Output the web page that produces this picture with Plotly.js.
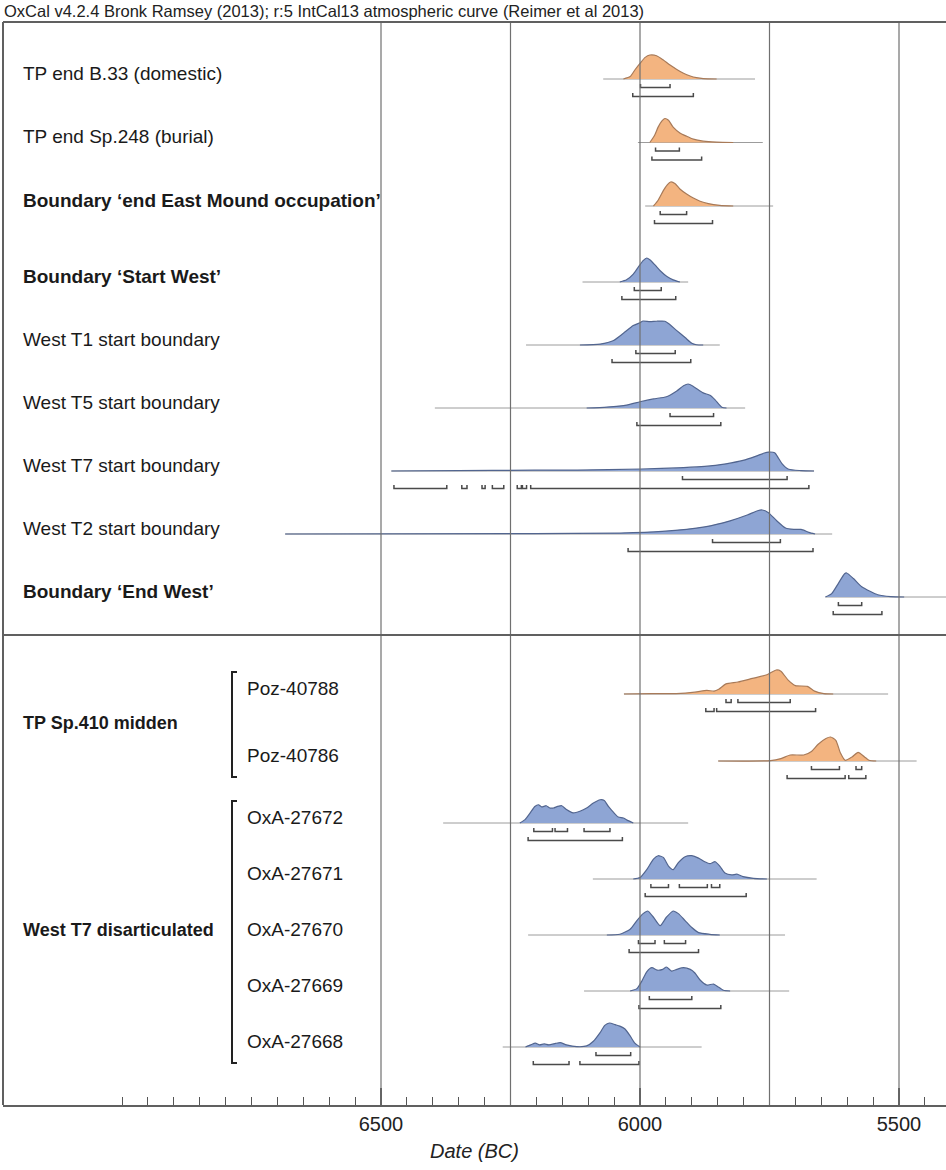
<!DOCTYPE html>
<html><head><meta charset="utf-8">
<script src="https://cdn.plot.ly/plotly-3.0.1.min.js"></script>
<style>html,body{margin:0;padding:0;background:#fff}#chart{width:946px;height:1170px}</style>
</head><body><div id="chart"></div>
<script>
// ---------------- DATA ----------------
const headerText = "OxCal v4.2.4 Bronk Ramsey (2013); r:5 IntCal13 atmospheric curve (Reimer et al 2013)";
const xTitle = "Date (BC)";
const tickVals = [7000, 6500, 6000, 5500];
const tickText = ["", "6500", "6000", "5500"];
const gridYears = [6500, 6250, 6000, 5750, 5500];

const rowLabels = [
  "TP end B.33 (domestic)", "TP end Sp.248 (burial)", "Boundary \u2018end East Mound occupation\u2019",
  "Boundary \u2018Start West\u2019", "West T1 start boundary", "West T5 start boundary",
  "West T7 start boundary", "West T2 start boundary", "Boundary \u2018End West\u2019",
  "Poz-40788", "Poz-40786",
  "OxA-27672", "OxA-27671", "OxA-27670", "OxA-27669", "OxA-27668"
];
const rowBold = [false,false,true, true,false,false,false,false,true, false,false, false,false,false,false,false];
const rowColour = ["o","o","o", "b","b","b","b","b","b", "o","o", "b","b","b","b","b"];
const groupLabels = ["TP Sp.410 midden", "West T7 disarticulated"];

// probability curves: years BC and relative density
const b33Years = [6032,6019,6010,6000,5990,5981,5968,5955,5942,5929,5916,5903,5891,5878,5852];
const b33Dens  = [0,0.1,0.375,0.65,0.9,1.0,0.97,0.79,0.58,0.4,0.24,0.125,0.056,0.014,0];
const b33Span = [6071,5778]; const b33R68 = [[5999,5942]]; const b33R95 = [[6014,5897]];

const sp248Years = [5981,5972,5965,5958,5952,5945,5936,5923,5910,5897,5878,5852,5820];
const sp248Dens  = [0,0.29,0.64,0.89,1.0,0.93,0.64,0.4,0.26,0.14,0.057,0.014,0];
const sp248Span = [6004,5763]; const sp248R68 = [[5970,5924]]; const sp248R95 = [[5977,5881]];

const endEastYears = [5974,5965,5955,5947,5941,5932,5923,5910,5897,5884,5868,5846,5820];
const endEastDens  = [0,0.24,0.64,0.89,1.0,0.93,0.71,0.5,0.33,0.2,0.1,0.03,0];
const endEastSpan = [5990,5743]; const endEastR68 = [[5961,5910]]; const endEastR95 = [[5972,5860]];

const startWestYears = [6039,6026,6013,6003,5994,5987,5981,5971,5961,5948,5936,5923];
const startWestDens  = [0,0.09,0.33,0.63,0.89,1.0,0.93,0.71,0.47,0.23,0.09,0];
const startWestSpan = [6111,5907]; const startWestR68 = [[6011,5959]]; const startWestR95 = [[6035,5931]];

const t1Years = [6116,6077,6051,6032,6013,6000,5994,5981,5968,5952,5945,5929,5913,5900,5891,5878];
const t1Dens  = [0,0.04,0.19,0.49,0.81,0.93,1.0,0.97,0.99,0.99,0.9,0.6,0.31,0.07,0.01,0];
const t1Span = [6220,5846]; const t1R68 = [[6008,5932]]; const t1R95 = [[6054,5902]];

const t5Years = [6103,6064,6026,6000,5974,5949,5929,5916,5907,5897,5878,5865,5855,5842,5833];
const t5Dens  = [0,0.04,0.12,0.26,0.38,0.47,0.71,0.93,1.0,0.9,0.63,0.53,0.34,0.03,0];
const t5Span = [6396,5797]; const t5R68 = [[5942,5858]]; const t5R95 = [[6006,5844]];

const t7Years = [6480,6285,6121,5998,5916,5875,5834,5801,5777,5760,5752,5740,5734,5726,5713,5689,5664];
const t7Dens  = [0,0.028,0.04,0.083,0.14,0.19,0.3,0.44,0.61,0.75,0.79,0.76,0.58,0.31,0.07,0.016,0];
const t7Span = [6480,5664]; const t7R68 = [[5918,5716]];
const t7R95 = [[6475,6373],[6344,6334],[6305,6299],[6285,6263],[6237,6229],[6227,6219],[6211,5674]];

const t2Years = [6685,6203,6039,5957,5875,5826,5793,5773,5764,5752,5736,5719,5703,5689,5674,5662];
const t2Dens  = [0,0.014,0.04,0.11,0.3,0.55,0.79,0.97,1.0,0.89,0.55,0.25,0.19,0.19,0.07,0];
const t2Span = [6685,5629]; const t2R68 = [[5860,5729]]; const t2R95 = [[6023,5666]];

const endWestYears = [5642,5630,5617,5605,5601,5588,5572,5555,5541,5516,5490];
const endWestDens  = [0,0.14,0.57,0.97,1.0,0.77,0.43,0.23,0.095,0.014,0];
const endWestSpan = [5642,5400]; const endWestR68 = [[5617,5572]]; const endWestR95 = [[5627,5533]];

const poz88Years = [6031,5976,5930,5894,5871,5857,5848,5834,5811,5783,5755,5737,5728,5714,5700,5677,5663,5645,5627];
const poz88Dens  = [0,0.015,0.015,0.076,0.15,0.12,0.2,0.42,0.5,0.65,0.8,1.0,0.95,0.58,0.35,0.32,0.12,0.015,0];
const poz88Span = [6031,5521]; const poz88R68 = [[5834,5824],[5811,5710]]; const poz88R95 = [[5873,5857],[5852,5661]];

const poz86Years = [5849,5748,5728,5710,5684,5669,5656,5641,5632,5622,5613,5604,5590,5579,5567,5558,5544];
const poz86Dens  = [0,0.015,0.1,0.25,0.25,0.4,0.7,0.94,1.0,0.86,0.33,0.03,0.18,0.36,0.18,0.03,0];
const poz86Span = [5849,5466]; const poz86R68 = [[5669,5615],[5583,5572]]; const poz86R95 = [[5716,5604],[5597,5564]];

const ox72Years = [6232,6222,6212,6203,6196,6190,6181,6174,6167,6159,6151,6142,6129,6116,6103,6090,6077,6069,6061,6051,6042,6032,6023,6013];
const ox72Dens  = [0,0.14,0.42,0.69,0.76,0.67,0.72,0.625,0.625,0.69,0.72,0.56,0.42,0.49,0.625,0.83,0.97,0.94,0.69,0.44,0.25,0.21,0.1,0];
const ox72Span = [6380,5907]; const ox72R68 = [[6205,6169],[6164,6140],[6108,6058]]; const ox72R95 = [[6216,6034]];

const ox71Years = [6013,6000,5987,5974,5965,5955,5945,5936,5926,5913,5900,5887,5875,5865,5855,5846,5836,5823,5813,5801,5781,5755];
const ox71Dens  = [0,0.06,0.39,0.83,0.97,0.9,0.54,0.39,0.68,0.93,0.97,0.87,0.72,0.64,0.72,0.54,0.25,0.17,0.2,0.1,0.03,0];
const ox71Span = [6091,5659]; const ox71R68 = [[5979,5945],[5924,5870],[5862,5846]]; const ox71R95 = [[5990,5795]];

const ox70Years = [6064,6039,6019,6006,5994,5985,5974,5961,5949,5936,5926,5913,5900,5887,5865,5846];
const ox70Dens  = [0,0.03,0.24,0.6,0.89,1.0,0.74,0.39,0.74,1.0,0.89,0.6,0.31,0.1,0.03,0];
const ox70Span = [6216,5720]; const ox70R68 = [[6003,5971],[5953,5912]]; const ox70R95 = [[6021,5887]];

const ox69Years = [6019,6006,5997,5987,5977,5967,5956,5949,5939,5929,5916,5903,5894,5884,5871,5858,5849,5839,5826];
const ox69Dens  = [0,0.1,0.39,0.8,0.97,0.87,0.9,1.0,0.83,0.9,0.97,0.9,0.75,0.46,0.25,0.29,0.17,0.03,0];
const ox69Span = [6108,5712]; const ox69R68 = [[5982,5900]]; const ox69R95 = [[6002,5844]];

const ox68Years = [6221,6211,6202,6194,6185,6176,6163,6154,6142,6122,6103,6090,6077,6068,6059,6048,6039,6029,6019,6010,6000];
const ox68Dens  = [0,0.09,0.16,0.09,0.13,0.09,0.15,0.18,0.09,0.015,0.044,0.24,0.6,0.9,1.0,0.93,0.87,0.75,0.46,0.16,0];
const ox68Span = [6265,5881]; const ox68R68 = [[6085,6018]]; const ox68R95 = [[6206,6137],[6116,6002]];

// ---------------- BUILD ----------------
const dists = [
  [b33Years,b33Dens,b33Span,b33R68,b33R95],
  [sp248Years,sp248Dens,sp248Span,sp248R68,sp248R95],
  [endEastYears,endEastDens,endEastSpan,endEastR68,endEastR95],
  [startWestYears,startWestDens,startWestSpan,startWestR68,startWestR95],
  [t1Years,t1Dens,t1Span,t1R68,t1R95],
  [t5Years,t5Dens,t5Span,t5R68,t5R95],
  [t7Years,t7Dens,t7Span,t7R68,t7R95],
  [t2Years,t2Dens,t2Span,t2R68,t2R95],
  [endWestYears,endWestDens,endWestSpan,endWestR68,endWestR95],
  [poz88Years,poz88Dens,poz88Span,poz88R68,poz88R95],
  [poz86Years,poz86Dens,poz86Span,poz86R68,poz86R95],
  [ox72Years,ox72Dens,ox72Span,ox72R68,ox72R95],
  [ox71Years,ox71Dens,ox71Span,ox71R68,ox71R95],
  [ox70Years,ox70Dens,ox70Span,ox70R68,ox70R95],
  [ox69Years,ox69Dens,ox69Span,ox69R68,ox69R95],
  [ox68Years,ox68Dens,ox68Span,ox68R68,ox68R95]
];

// layout geometry (page pixels; y axis is in pixel units)
const W = 946, H = 1170, ML = 3, MR = 0, MT = 22, MB = 65;
const PW = W - ML - MR;
const plotBottom = H - MB;
const groups = [ {rows:[0,1,2], start:79, step:63.5},
                 {rows:[3,4,5,6,7,8], start:282, step:63},
                 {rows:[9,10], start:694, step:67},
                 {rows:[11,12,13,14,15], start:823, step:56} ];
const baseY = [];
groups.forEach(g => g.rows.forEach((r,k) => baseY[r] = g.start + k*g.step));
const PEAK = 24;
const px2paper = px => (px - ML) / PW;
const FONT = 'Liberation Sans, Arial, sans-serif';

const COLS = {
  o: {fill:'rgba(243,180,128,1)', line:'#a87a58'},
  b: {fill:'rgba(142,165,212,1)', line:'#52658f'}
};

const traces = [];
const annotations = [];
dists.forEach((d, i) => {
  const [yrs, den, span, r68, r95] = d;
  const yb = baseY[i];
  const c = COLS[rowColour[i]];
  traces.push({x: span, y: [yb, yb], mode:'lines', line:{color:'#9c9c9c', width:1}, hoverinfo:'skip'});
  traces.push({x: yrs, y: den.map(v => yb - v*PEAK), mode:'lines', fill:'toself',
               fillcolor:c.fill, line:{color:c.line, width:1.2, shape:'spline', smoothing:0.6}, hoverinfo:'skip'});
  [[r68, 8.5], [r95, 17.5]].forEach(([ranges, off]) => {
    const bx = [], by = [];
    const yy = yb + off;
    ranges.forEach(([a, b]) => { bx.push(a, a, b, b, null); by.push(yy-3.5, yy, yy, yy-3.5, null); });
    traces.push({x: bx, y: by, mode:'lines', line:{color:'#4a4a4a', width:1.5}, hoverinfo:'skip'});
  });
  const lower = i >= 9;
  annotations.push({xref:'paper', yref:'y', x: px2paper(lower ? 245 : 21), y: yb - 6, xanchor:'left', yanchor:'middle',
    text: rowBold[i] ? '<b>' + rowLabels[i] + '</b>' : rowLabels[i], showarrow:false,
    font:{family:FONT, size:19, color:'#1a1a1a'}});
});

// group labels and brackets
const shapes = [];
[[groups[2], 0], [groups[3], 1]].forEach(([g, gi]) => {
  const yTop = baseY[g.rows[0]] - 22, yBot = baseY[g.rows[g.rows.length-1]] + 16;
  const xa = px2paper(232), xb = px2paper(237);
  shapes.push({type:'path', xref:'paper', yref:'y',
    path:`M ${xb} ${yTop} L ${xa} ${yTop} L ${xa} ${yBot} L ${xb} ${yBot}`, line:{color:'#222', width:2}});
  const yMid = (baseY[g.rows[0]] + baseY[g.rows[g.rows.length-1]]) / 2 - 5;
  annotations.push({xref:'paper', yref:'y', x: px2paper(21), y: yMid, xanchor:'left', yanchor:'middle',
    text:'<b>' + groupLabels[gi] + '</b>', showarrow:false,
    font:{family:FONT, size:18, color:'#1a1a1a'}});
});

// grid lines
gridYears.forEach(g => shapes.push({type:'line', xref:'x', yref:'paper', x0:g, x1:g, y0:0, y1:1,
  line:{color:'#707070', width:1.2}}));
// frame (left, top) and panel divider
shapes.push({type:'line', xref:'paper', yref:'paper', x0:0, x1:0, y0:0, y1:1, line:{color:'#606060', width:2}});
shapes.push({type:'line', xref:'paper', yref:'paper', x0:0, x1:1, y0:1, y1:1, line:{color:'#606060', width:2}});
shapes.push({type:'line', xref:'paper', yref:'y', x0:0, x1:1, y0:635, y1:635, line:{color:'#606060', width:2}});

// header
annotations.push({xref:'paper', yref:'paper', x: px2paper(2), y: (plotBottom - 11) / (plotBottom - MT),
  xanchor:'left', yanchor:'middle', text: headerText, showarrow:false,
  font:{family:FONT, size:16.5, color:'#222'}});

const minorVals = [];
for (let v = 7000; v >= 5400; v -= 50) minorVals.push(v);

const xMin = 6000 + (640 - ML) / 0.518;
const xMax = 6000 - (W - MR - 640) / 0.518;

const layout = {
  width: W, height: H,
  margin: {l: ML, r: MR, t: MT, b: MB},
  paper_bgcolor:'#fff', plot_bgcolor:'#fff',
  showlegend:false, hovermode:false,
  font:{family:FONT, color:'#222'},
  xaxis: {range:[xMin, xMax], showgrid:false, zeroline:false,
    tickmode:'array', tickvals: tickVals, ticktext: tickText, ticks:'inside', ticklen:17, tickwidth:1.2, tickcolor:'#555',
    minor:{tickvals: minorVals, ticks:'inside', ticklen:8, tickwidth:1, tickcolor:'#555', showgrid:false},
    showline:true, linecolor:'#606060', linewidth:2,
    tickfont:{size:20, color:'#222'}, ticklabelstandoff:0,
    title:{text:'<i>' + xTitle + '</i>', font:{size:20, color:'#222'}, standoff:10},
    fixedrange:true},
  yaxis: {range:[plotBottom, MT], showgrid:false, zeroline:false, showticklabels:false, ticks:'', showline:false, fixedrange:true},
  shapes, annotations
};

Plotly.newPlot('chart', traces, layout, {staticPlot:true, displayModeBar:false});
</script></body></html>
